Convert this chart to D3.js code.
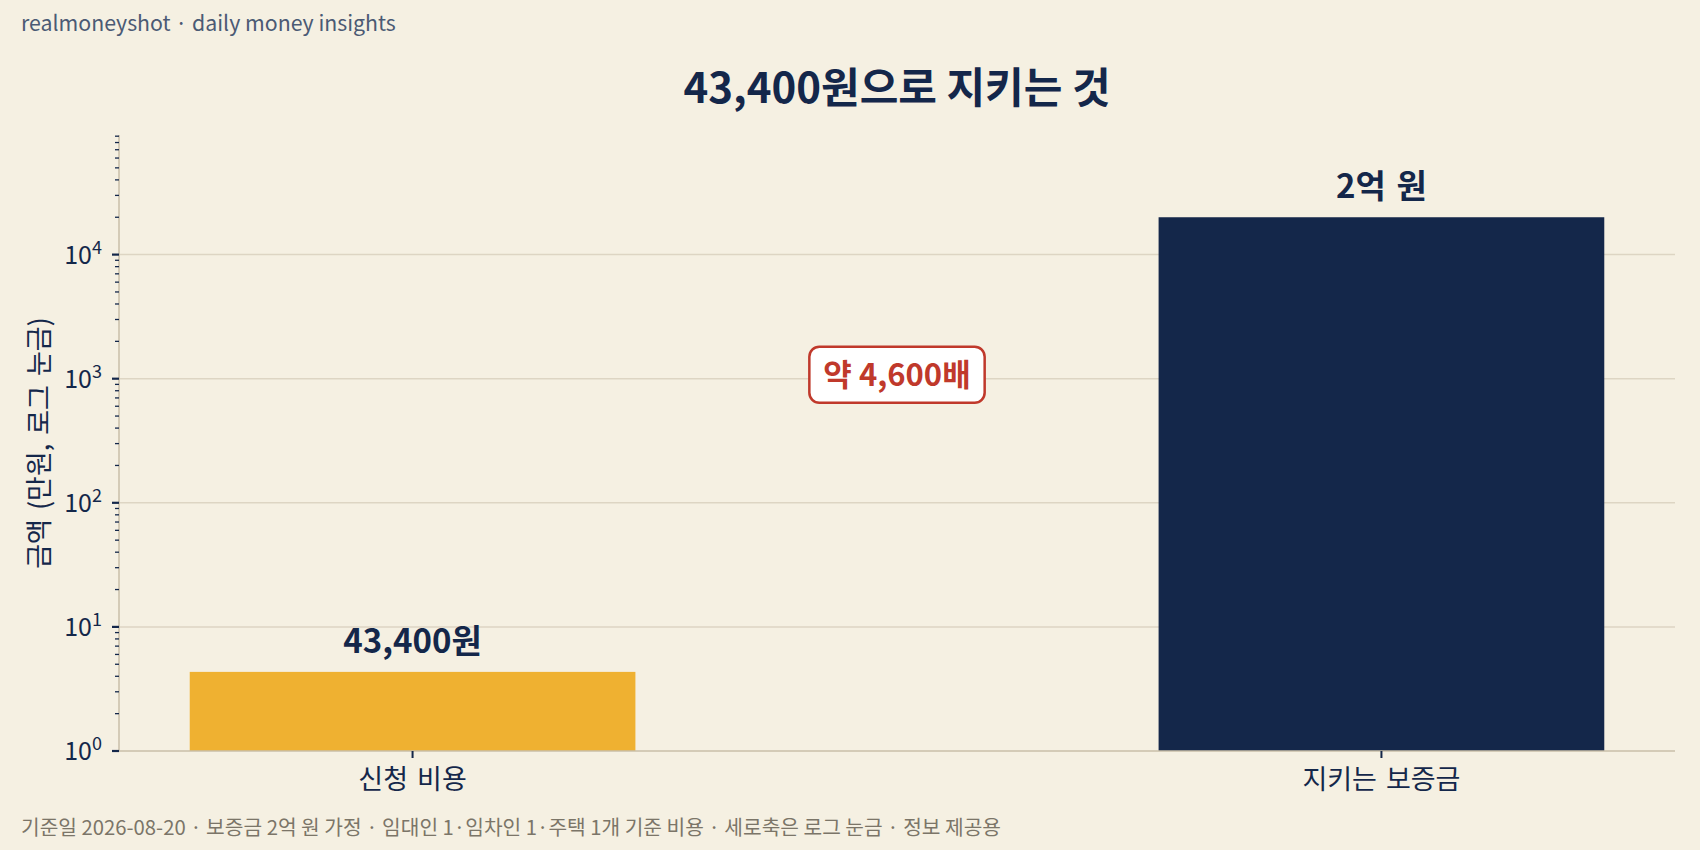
<!DOCTYPE html>
<html>
<head>
<meta charset="utf-8">
<script src="https://cdn.jsdelivr.net/npm/d3@7"></script>
<style>
  html, body { margin: 0; padding: 0; background: #F5F0E2; }
  svg { display: block; font-family: "Noto Sans CJK KR", "Noto Sans", sans-serif; }
</style>
</head>
<body>
<svg width="1700" height="850"></svg>
<script>
// data (만원 단위)
categories = ["신청 비용", "지키는 보증금"];
values = [4.34, 20000];
valueLabels = ["43,400원", "2억 원"];
barColors = ["#EFB131", "#14274A"];
yTicks = [1, 10, 100, 1000, 10000];
ratioLabel = "약 4,600배";

width = 1700;
height = 850;
margin = {left: 119, right: 25, top: 135, bottom: 99};

navy = "#14274A";
barWidth = 0.46;
pad = 0.05 * (1 + barWidth);

x = d3.scaleLinear()
    .domain([-barWidth / 2 - pad, categories.length - 1 + barWidth / 2 + pad])
    .range([margin.left, width - margin.right]);

y = d3.scaleLog()
    .domain([1, 92000])
    .range([height - margin.bottom, margin.top]);

function draw() {
  const svg = d3.select("svg");

  svg.append("rect").attr("width", width).attr("height", height).attr("fill", "#F5F0E2");

  // grid
  svg.append("g")
    .selectAll("line")
    .data(yTicks.slice(1))
    .join("line")
      .attr("x1", x.range()[0]).attr("x2", x.range()[1])
      .attr("y1", d => y(d)).attr("y2", d => y(d))
      .attr("stroke", "#DDD5C3").attr("stroke-width", 1.5);

  // bars
  svg.append("g")
    .selectAll("rect")
    .data(values)
    .join("rect")
      .attr("x", (d, i) => x(i - barWidth / 2))
      .attr("width", x(barWidth) - x(0))
      .attr("y", d => y(d))
      .attr("height", d => y(1) - y(d))
      .attr("fill", (d, i) => barColors[i]);

  // spines
  svg.append("line")
      .attr("x1", x.range()[0]).attr("x2", x.range()[0])
      .attr("y1", y.range()[0]).attr("y2", y.range()[1])
      .attr("stroke", "#C8BFA8").attr("stroke-width", 1.5);
  svg.append("line")
      .attr("x1", x.range()[0]).attr("x2", x.range()[1])
      .attr("y1", y.range()[0]).attr("y2", y.range()[0])
      .attr("stroke", "#C8BFA8").attr("stroke-width", 1.5);

  // minor y ticks
  const minor = [];
  for (let e = 0; e < 5; e++) for (let m = 2; m <= 9; m++) {
    const v = m * Math.pow(10, e);
    if (v <= y.domain()[1]) minor.push(v);
  }
  svg.append("g")
    .selectAll("line")
    .data(minor)
    .join("line")
      .attr("x1", x.range()[0] - 4).attr("x2", x.range()[0])
      .attr("y1", d => y(d)).attr("y2", d => y(d))
      .attr("stroke", navy).attr("stroke-width", 1.3);

  // major y ticks + labels
  const maj = svg.append("g");
  maj.selectAll("line")
    .data(yTicks)
    .join("line")
      .attr("x1", x.range()[0] - 7).attr("x2", x.range()[0])
      .attr("y1", d => y(d)).attr("y2", d => y(d))
      .attr("stroke", navy).attr("stroke-width", 2.2);
  const lab = maj.selectAll("text")
    .data(yTicks)
    .join("text")
      .attr("x", x.range()[0] - 17)
      .attr("y", d => y(d) + 9)
      .attr("text-anchor", "end")
      .attr("fill", navy)
      .style("font-size", "25px");
  lab.append("tspan").text("10");
  lab.append("tspan")
      .attr("dy", -10)
      .style("font-size", "18px")
      .text(d => Math.round(Math.log10(d)));

  // x ticks
  svg.append("g")
    .selectAll("line")
    .data(categories)
    .join("line")
      .attr("x1", (d, i) => x(i)).attr("x2", (d, i) => x(i))
      .attr("y1", y.range()[0]).attr("y2", y.range()[0] + 7)
      .attr("stroke", navy).attr("stroke-width", 2);
  svg.append("g")
    .selectAll("text")
    .data(categories)
    .join("text")
      .attr("x", (d, i) => x(i))
      .attr("y", y.range()[0] + 38)
      .attr("text-anchor", "middle")
      .attr("fill", navy)
      .style("font-size", "27px")
      .style("word-spacing", "3px")
      .text(d => d);

  // value labels
  svg.append("g")
    .selectAll("text")
    .data(values)
    .join("text")
      .attr("x", (d, i) => x(i))
      .attr("y", d => y(d) - 19)
      .attr("text-anchor", "middle")
      .attr("fill", navy)
      .style("font-size", "33px")
      .style("font-weight", "bold")
      .style("word-spacing", "3px")
      .text((d, i) => valueLabels[i]);

  // ratio annotation
  const ann = svg.append("g")
      .attr("transform", `translate(${x(0.5)},${y(1000) - 4})`);
  const annText = ann.append("text")
      .attr("text-anchor", "middle")
      .attr("dy", "0.35em")
      .attr("fill", "#C0392B")
      .style("font-size", "31px")
      .style("font-weight", "bold")
      .text(ratioLabel);
  const bb = annText.node().getBBox();
  ann.insert("rect", "text")
      .attr("x", bb.x - 14).attr("y", -28)
      .attr("width", bb.width + 28).attr("height", 56)
      .attr("rx", 10)
      .attr("fill", "#FFFFFF")
      .attr("stroke", "#C0392B").attr("stroke-width", 2.5);

  // y label
  svg.append("text")
      .attr("transform", `translate(49,${(y.range()[0] + y.range()[1]) / 2}) rotate(-90)`)
      .attr("text-anchor", "middle")
      .attr("fill", navy)
      .style("font-size", "27px")
      .style("word-spacing", "3px")
      .text("금액 (만원, 로그 눈금)");

  // title
  svg.append("text")
      .attr("x", 897).attr("y", 103)
      .attr("text-anchor", "middle")
      .attr("fill", navy)
      .style("font-size", "42px")
      .style("font-weight", "bold")
      .text("43,400원으로 지키는 것");

  // watermark + footer
  svg.append("text")
      .attr("x", 21).attr("y", 31)
      .attr("fill", "#4B5A74")
      .style("font-size", "21.3px")
      .text("realmoneyshot · daily money insights");
  svg.append("text")
      .attr("x", 21).attr("y", 835)
      .attr("fill", "#7B7568")
      .style("font-size", "20.3px")
      .text("기준일 2026-08-20 · 보증금 2억 원 가정 · 임대인 1·임차인 1·주택 1개 기준 비용 · 세로축은 로그 눈금 · 정보 제공용");
}
draw();
</script>
</body>
</html>
